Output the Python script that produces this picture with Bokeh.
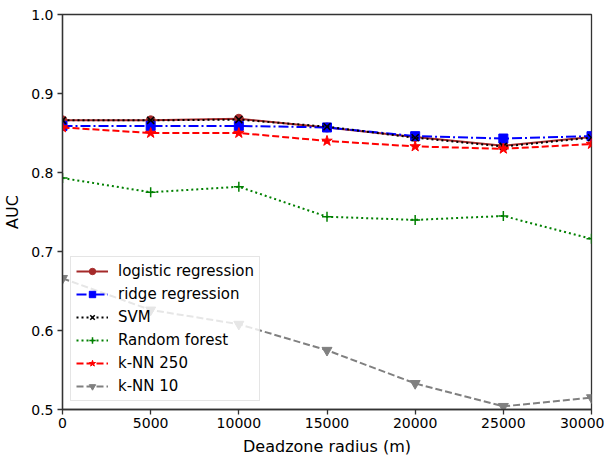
from bokeh.plotting import figure
from bokeh.models import Legend, LegendItem, FixedTicker, Range1d
from bokeh.embed import file_html
from bokeh.resources import INLINE

radius = [0, 5000, 10000, 15000, 20000, 25000, 30000]
logistic = [0.866, 0.866, 0.868, 0.857, 0.845, 0.834, 0.845]
ridge = [0.859, 0.859, 0.859, 0.857, 0.846, 0.843, 0.846]
svm = [0.866, 0.866, 0.867, 0.858, 0.844, 0.833, 0.844]
rforest = [0.793, 0.775, 0.782, 0.744, 0.740, 0.745, 0.716]
knn250 = [0.857, 0.850, 0.850, 0.840, 0.833, 0.830, 0.836]
knn10 = [0.666, 0.626, 0.608, 0.575, 0.533, 0.504, 0.515]
x_ticks = [0, 5000, 10000, 15000, 20000, 25000, 30000]
y_ticks = [0.5, 0.6, 0.7, 0.8, 0.9, 1.0]

FONT = "DejaVu Sans"

p = figure(width=604, height=458, output_backend="svg", toolbar_location=None,
           x_range=Range1d(0, 30000), y_range=Range1d(0.5, 1.0),
           min_border_left=54, min_border_right=13, min_border_top=14, min_border_bottom=30)
p.xgrid.visible = False
p.ygrid.visible = False
p.outline_line_color = "#333333"
p.outline_line_width = 1.3

for ax in (p.xaxis[0], p.yaxis[0]):
    ax.axis_line_color = "#333333"
    ax.axis_line_width = 1.3
    ax.major_tick_line_color = "#333333"
    ax.major_tick_line_width = 1.3
    ax.major_tick_in = 0
    ax.major_tick_out = 5
    ax.minor_tick_line_color = None
    ax.major_label_text_font = FONT
    ax.major_label_text_font_size = "14px"
    ax.major_label_text_color = "black"
    ax.axis_label_text_font = FONT
    ax.axis_label_text_font_size = "16px"
    ax.axis_label_text_font_style = "normal"
    ax.axis_label_text_color = "black"

p.xaxis.ticker = FixedTicker(ticks=x_ticks)
p.yaxis.ticker = FixedTicker(ticks=y_ticks)
p.yaxis.major_label_overrides = {v: f"{v:.1f}" for v in y_ticks}
p.xaxis.axis_label = "Deadzone radius (m)"
p.yaxis.axis_label = "AUC"
p.xaxis.major_label_standoff = 3
p.xaxis.axis_label_standoff = 6
p.yaxis.major_label_standoff = 4
p.yaxis.axis_label_standoff = 6

series = [
    ("logistic regression", logistic, "#a52a2a", "solid", "circle", 9),
    ("ridge regression", ridge, "#0000ff", "10 3 2 3", "square", 9),
    ("SVM", svm, "#000000", "2 3", "x", 10),
    ("Random forest", rforest, "#008000", "2 3", "cross", 10),
    ("k-NN 250", knn250, "#ff0000", "7 3", "star", 11),
    ("k-NN 10", knn10, "#808080", "7 3", "inverted_triangle", 10),
]

items = []
for name, ys, color, dash, marker, size in series:
    r1 = p.line(radius, ys, line_color=color, line_width=2, line_dash=dash)
    r2 = p.scatter(radius, ys, marker=marker, size=size, line_color=color,
                   fill_color=color, line_width=1.5 if marker in ("x", "cross") else 1)
    items.append(LegendItem(label=name, renderers=[r1, r2]))

legend = Legend(items=items, location="bottom_left")
legend.label_text_font = FONT
legend.label_text_font_size = "15px"
legend.label_text_color = "black"
legend.glyph_width = 32
legend.glyph_height = 16
legend.spacing = 5
legend.padding = 5
legend.margin = 8
legend.label_standoff = 10
legend.border_line_color = "#cccccc"
legend.border_line_width = 1
legend.background_fill_alpha = 0.8
p.add_layout(legend)

open("out.html", "w").write(file_html(p, INLINE))
